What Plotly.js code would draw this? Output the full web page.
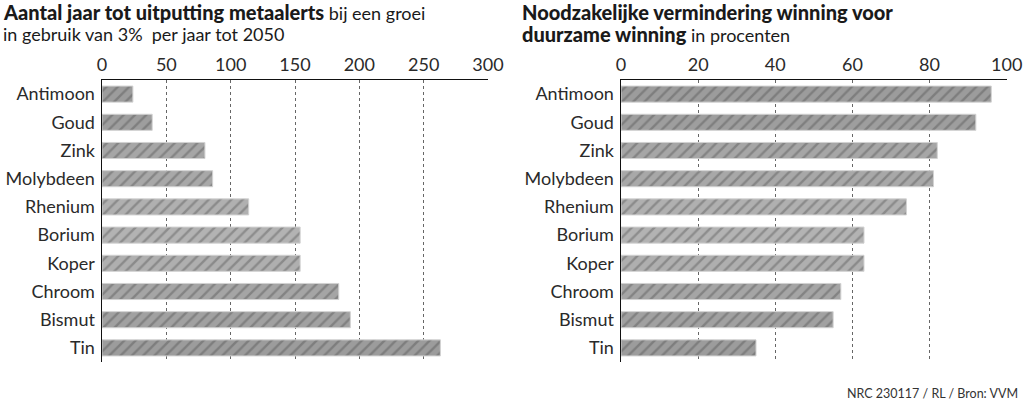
<!DOCTYPE html>
<html>
<head>
<meta charset="utf-8">
<script src="https://cdn.plot.ly/plotly-3.0.1.min.js"></script>
<style>html,body{margin:0;padding:0;background:#fff;}#chart{width:1024px;height:402px;}</style>
</head>
<body>
<div id="chart"></div>
<script>
const metals = ["Antimoon","Goud","Zink","Molybdeen","Rhenium","Borium","Koper","Chroom","Bismut","Tin"];
const yearsToDepletion = [24, 39, 80, 86, 114, 154, 154, 184, 193, 263];
const reductionPct = [96, 92, 82, 81, 74, 63, 63, 57, 55, 35];
const leftTicks = [0, 50, 100, 150, 200, 250, 300];
const rightTicks = [0, 20, 40, 60, 80, 100];
const barColors = ["#9c9c9c","#9e9e9e","#a6a6a6","#a8a8a8","#b0b0b0","#b3b3b3","#afafaf","#a5a5a5","#a1a1a1","#9c9c9c"];

const FONT = "Lato, 'Open Sans', sans-serif";
const TXT = "#2a2a2a";

function barTrace(x, xa, ya) {
  return {
    type: "bar", orientation: "h", x: x, y: metals, xaxis: xa, yaxis: ya,
    width: 0.57, hoverinfo: "skip",
    marker: {
      color: barColors,
      line: {color: "#d2d2d2", width: 1},
      pattern: {shape: "/", fillmode: "overlay", fgcolor: "#ffffff", fgopacity: 0.35, size: 8, solidity: 0.3}
    }
  };
}

const xBase = {
  side: "top", showline: true, linecolor: "#111", linewidth: 1.5, mirror: false,
  showgrid: true, gridcolor: "#666", griddash: "dot", gridwidth: 1, zeroline: false,
  ticks: "", tickfont: {family: FONT, size: 18, color: TXT}, fixedrange: true
};
const yBase = {
  type: "category", categoryorder: "array", categoryarray: metals, range: [9.5, -0.5],
  showline: true, linecolor: "#111", linewidth: 1.5, showgrid: false, zeroline: false,
  ticks: "", ticklabelstandoff: 2, tickfont: {family: FONT, size: 18, color: TXT}, fixedrange: true
};

const B = '<span style="font-weight:900;font-size:20px">';
function titleLine(text, xpx, ypx) {
  return {xref: "paper", yref: "paper", x: xpx/1024, y: 1 - ypx/402, xanchor: "left", yanchor: "middle",
          align: "left", showarrow: false, borderpad: 0, text: text, font: {family: FONT, size: 18, color: "#1a1a1a"}};
}
const layout = {
  width: 1024, height: 402, margin: {l: 0, r: 0, t: 0, b: 0},
  paper_bgcolor: "#fff", plot_bgcolor: "rgba(0,0,0,0)", showlegend: false, bargap: 0.43,
  xaxis: Object.assign({}, xBase, {domain: [102/1024, 488/1024], range: [0, 300], tickvals: leftTicks, anchor: "y"}),
  yaxis: Object.assign({}, yBase, {domain: [1 - 362/402, 1 - 80/402], anchor: "x"}),
  xaxis2: Object.assign({}, xBase, {domain: [621/1024, 1006.7/1024], range: [0, 100], tickvals: rightTicks, anchor: "y2"}),
  yaxis2: Object.assign({}, yBase, {domain: [1 - 362/402, 1 - 80/402], anchor: "x2"}),
  annotations: [
    titleLine(B + "Aantal jaar tot uitputting metaalerts</span> bij een groei", 2, 12),
    titleLine("in gebruik van 3%  per jaar tot 2050", 2, 34.5),
    titleLine(B + "Noodzakelijke vermindering winning voor</span>", 521, 12),
    titleLine(B + "duurzame winning</span> in procenten", 521, 34.5),
    {xref: "paper", yref: "paper", x: 1020/1024, y: 1 - 393/402, xanchor: "right", yanchor: "middle", showarrow: false,
     text: "NRC 230117 / RL / Bron: VVM", font: {family: FONT, size: 12.5, color: "#333"}}
  ]
};

Plotly.newPlot("chart", [barTrace(yearsToDepletion, "x", "y"), barTrace(reductionPct, "x2", "y2")], layout, {displayModeBar: false, staticPlot: true});
</script>
</body>
</html>
